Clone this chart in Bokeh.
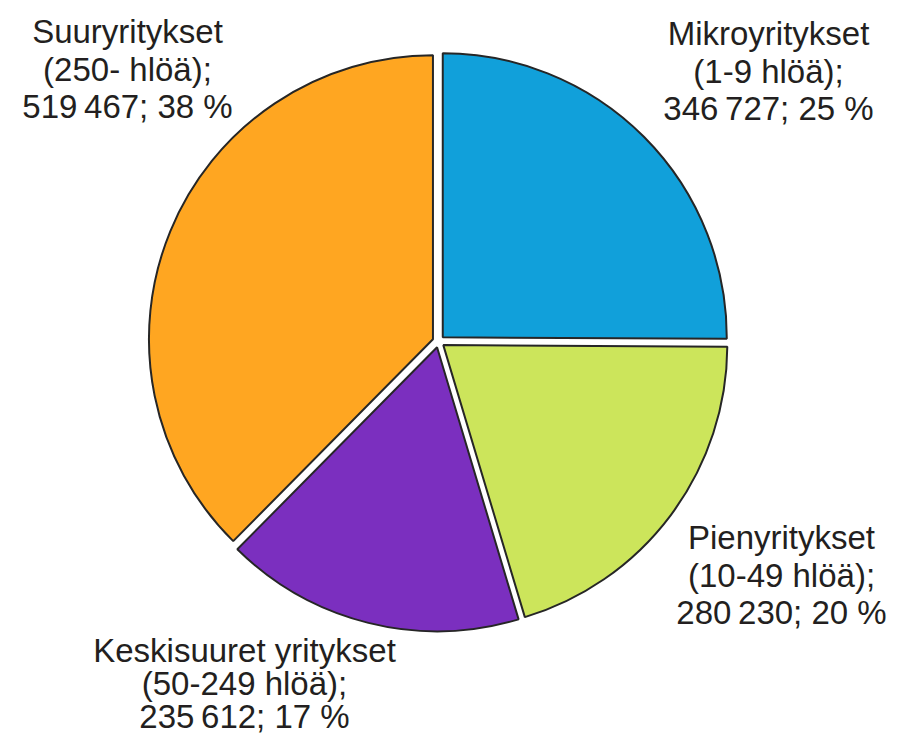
import math
from bokeh.plotting import figure
from bokeh.models import Range1d, ColumnDataSource
from bokeh.core.properties import value
from bokeh.embed import file_html
from bokeh.resources import INLINE

# ---- data ----
categories = ["Mikroyritykset", "Pienyritykset", "Keskisuuret yritykset", "Suuryritykset"]
size_labels = ["(1-9 hlöä);", "(10-49 hlöä);", "(50-249 hlöä);", "(250- hlöä);"]
counts = [346727, 280230, 235612, 519467]
percents = [25, 20, 17, 38]
colors = ["#11A0DA", "#CCE55B", "#7B2FBF", "#FFA621"]

# ---- layout (reference pixel space; y flipped) ----
H = 753
cx, cy = 438, H - 347
R = 284
explode = 6

total = sum(counts)
starts, ends, xs, ys = [], [], [], []
cum = 0.0
for c in counts:
    a0 = math.pi / 2 - 2 * math.pi * cum / total
    cum += c
    a1 = math.pi / 2 - 2 * math.pi * cum / total
    mid = (a0 + a1) / 2
    starts.append(a0)
    ends.append(a1)
    xs.append(cx + explode * math.cos(mid))
    ys.append(cy + explode * math.sin(mid))

src = ColumnDataSource(dict(x=xs, y=ys, start=starts, end=ends, color=colors))

p = figure(width=887, height=737, output_backend="svg", toolbar_location=None,
           x_range=Range1d(0, 887), y_range=Range1d(10, 747),
           x_axis_type=None, y_axis_type=None,
           min_border=0, outline_line_color=None, background_fill_color="white",
           border_fill_color="white")
p.grid.visible = False

p.wedge(x="x", y="y", radius=R, start_angle="start", end_angle="end",
        direction="clock", fill_color="color", line_color="#262626",
        line_width=2, source=src)

def fmt(n):
    return f"{n:,}".replace(",", "\u2009")

# label anchors (centre x, first baseline y, line gap) in reference px
anchors = [(768, 39, 37.5), (781, 543, 37.5), (244, 656, 33), (127, 37, 37.5)]
tx, ty, tt = [], [], []
for i, cat in enumerate(categories):
    lines = [cat, size_labels[i], f"{fmt(counts[i])}; {percents[i]} %"]
    ax, ay, gap = anchors[i]
    for j, ln in enumerate(lines):
        tx.append(ax)
        ty.append(H - (ay + j * gap))
        tt.append(ln)

p.text(x=tx, y=ty, text=tt, text_align="center", text_baseline="alphabetic",
       text_font=value("Liberation Sans"), text_font_size="33px",
       text_color="#231F20")

open("out.html", "w").write(file_html(p, INLINE))
